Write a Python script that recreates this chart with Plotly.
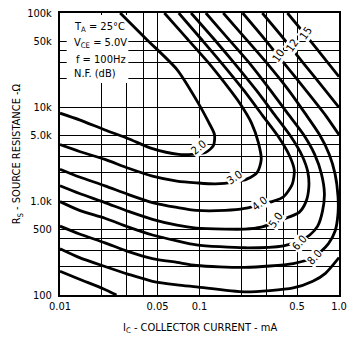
import math
import plotly.graph_objects as go

# Collector current (mA) / source resistance (ohm) pairs along each noise-figure contour
nf2_ic = [0.027, 0.042, 0.069, 0.098, 0.115, 0.128, 0.126, 0.111, 0.089, 0.071, 0.046, 0.031, 0.021, 0.0138, 0.010]
nf2_rs = [100000, 52000, 25000, 11000, 7100, 5100, 3900, 3300, 3130, 3130, 3600, 4600, 5700, 7300, 8600]

nf3_ic = [0.056, 0.080, 0.115, 0.153, 0.195, 0.236, 0.264, 0.277, 0.260, 0.218, 0.180, 0.130, 0.095, 0.069, 0.046, 0.031, 0.021, 0.0138, 0.010]
nf3_rs = [100000, 55000, 30000, 17700, 10900, 6750, 4200, 2770, 2030, 1710, 1600, 1520, 1560, 1630, 1840, 2230, 2770, 3360, 3980]

nf4_ic = [0.071, 0.102, 0.146, 0.208, 0.282, 0.364, 0.441, 0.478, 0.463, 0.401, 0.331, 0.273, 0.211, 0.153, 0.095, 0.069, 0.046, 0.031, 0.021, 0.0138, 0.010]
nf4_rs = [100000, 53500, 28600, 15000, 8200, 4940, 3050, 2130, 1520, 1110, 985, 917, 833, 794, 794, 853, 962, 1170, 1450, 1800, 2180]

nf5_ic = [0.087, 0.126, 0.180, 0.256, 0.347, 0.448, 0.543, 0.598, 0.608, 0.580, 0.518, 0.434, 0.352, 0.277, 0.211, 0.153, 0.095, 0.069, 0.046, 0.031, 0.021, 0.0138, 0.010]
nf5_rs = [100000, 53500, 28600, 15000, 8200, 4940, 3050, 2030, 1410, 985, 757, 671, 595, 527, 502, 502, 515, 553, 639, 775, 962, 1200, 1450]

nf6_ic = [0.111, 0.158, 0.225, 0.320, 0.427, 0.552, 0.669, 0.749, 0.786, 0.761, 0.703, 0.618, 0.526, 0.401, 0.211, 0.095, 0.069, 0.046, 0.031, 0.021, 0.0138, 0.010]
nf6_rs = [100000, 54800, 30000, 15300, 8600, 5180, 3130, 1930, 1200, 775, 540, 435, 377, 334, 318, 342, 377, 435, 527, 655, 794, 985]

nf8_ic = [0.148, 0.211, 0.300, 0.427, 0.570, 0.726, 0.852, 0.938, 0.984, 0.984, 0.938, 0.838, 0.669, 0.470, 0.211, 0.095, 0.069, 0.046, 0.031, 0.021, 0.0138, 0.010]
nf8_rs = [100000, 54800, 30000, 15700, 8600, 5060, 3130, 1930, 1110, 738, 479, 350, 256, 216, 197, 206, 222, 244, 289, 359, 446, 540]

# 10, 12 and 15 dB leave the chart; None splits the visible branches
nf10_ic = [0.204, 0.291, 0.414, 0.589, 0.799, 1.0, None, 1.0, 0.799, 0.649, 0.470, 0.211, 0.095, 0.069, 0.046, 0.031, 0.021, 0.0138, 0.010]
nf10_rs = [100000, 53500, 27900, 14600, 8200, 5060, None, 250, 170, 140, 119, 108, 122, 128, 140, 166, 201, 250, 311]

nf12_ic = [0.282, 0.401, 0.570, 0.812, 1.0, None, 0.010, 0.0138, 0.0206, 0.0254]
nf12_rs = [100000, 53500, 27900, 14600, 9900, None, 179, 147, 116, 100]

nf15_ic = [0.427, 0.589, 0.812, 1.0]
nf15_rs = [100000, 56000, 31000, 21000]

nf_levels = ["2.0", "3.0", "4.0", "5.0", "6.0", "8.0", "10", "12", "15"]

# Where each level's number sits on its curve (mA, ohm)
label_ic = [0.0992, 0.180, 0.2725, 0.352, 0.526, 0.670, 0.370, 0.463, 0.580]
label_rs = [3700, 1757, 939, 624, 359, 250, 35500, 45200, 60300]

# Grid / tick positions
x_ticks = [0.01, 0.02, 0.03, 0.04, 0.05, 0.1, 0.2, 0.3, 0.4, 0.5, 1.0]
x_ticktext = ["0.01", "", "", "", "0.05", "0.1", "", "", "", "0.5", "1.0"]
y_ticks = [100, 200, 300, 400, 500, 1000, 2000, 3000, 4000, 5000, 10000, 20000, 30000, 40000, 50000, 100000]
y_ticktext = ["100", "", "", "", "500", "1.0k", "", "", "", "5.0k", "10k", "", "", "", "50k", "100k"]

conditions = ["T<sub>A</sub> = 25°C", "V<sub>CE</sub> = 5.0V", "f = 100Hz", "N.F. (dB)"]

FONT = "Liberation Sans Narrow, Arial Narrow, DejaVu Sans Condensed, Liberation Sans, sans-serif"

X_RANGE = (-2, 0)
Y_RANGE = (2, 5)


def frac_to_x(f):
    """Fraction of the x axis span -> current value on the log axis."""
    return 10 ** (X_RANGE[0] + (X_RANGE[1] - X_RANGE[0]) * f)


def frac_to_y(f):
    """Fraction of the y axis span -> resistance value on the log axis."""
    return 10 ** (Y_RANGE[0] + (Y_RANGE[1] - Y_RANGE[0]) * f)


fig = go.Figure()

# White patch behind the condition block (sits above the grid, under the curves)
bx0, bx1, by0, by1 = 0.024, 0.245, 0.752, 0.993
fig.add_trace(go.Scatter(
    x=[frac_to_x(bx0), frac_to_x(bx1), frac_to_x(bx1), frac_to_x(bx0), frac_to_x(bx0)],
    y=[frac_to_y(by0), frac_to_y(by0), frac_to_y(by1), frac_to_y(by1), frac_to_y(by0)],
    mode="lines", fill="toself", fillcolor="white",
    line=dict(width=0, color="white"), hoverinfo="skip", showlegend=False,
))

curves = [
    (nf2_ic, nf2_rs), (nf3_ic, nf3_rs), (nf4_ic, nf4_rs), (nf5_ic, nf5_rs),
    (nf6_ic, nf6_rs), (nf8_ic, nf8_rs), (nf10_ic, nf10_rs), (nf12_ic, nf12_rs),
    (nf15_ic, nf15_rs),
]
for ic, rs in curves:
    fig.add_trace(go.Scatter(
        x=ic, y=rs, mode="lines",
        line=dict(color="black", width=2.8, shape="spline", smoothing=0.7),
        connectgaps=False, hoverinfo="skip", showlegend=False,
    ))

label_angles = [-40, -35, -38, -55, -48, -48, -55, -55, -55]
annotations = []
for lvl, ic, rs, ang in zip(nf_levels, label_ic, label_rs, label_angles):
    annotations.append(dict(
        x=math.log10(ic), y=math.log10(rs), xref="x", yref="y",
        text=lvl, showarrow=False, textangle=ang,
        bgcolor="white", borderpad=0,
        font=dict(family=FONT, size=11, color="black"),
    ))

# Test-condition block in the upper left
cond_y = [0.951, 0.895, 0.836, 0.784]
cond_x = [0.042, 0.042, 0.050, 0.042]
for txt, cx, cy in zip(conditions, cond_x, cond_y):
    annotations.append(dict(
        x=cx, y=cy, xref="paper", yref="paper", xanchor="left", yanchor="middle",
        text=txt, showarrow=False,
        font=dict(family=FONT, size=11, color="black"),
    ))

# Axis titles
annotations.append(dict(
    x=0.5, y=-0.118, xref="paper", yref="paper", xanchor="center", yanchor="middle",
    text="I<sub>C</sub> - COLLECTOR CURRENT - mA", showarrow=False,
    font=dict(family=FONT, size=11, color="black"),
))
annotations.append(dict(
    x=-0.153, y=0.5, xref="paper", yref="paper", xanchor="center", yanchor="middle",
    text="R<sub>S</sub> - SOURCE RESISTANCE -Ω", showarrow=False, textangle=-90,
    font=dict(family=FONT, size=11, color="black"),
))

axis_common = dict(
    type="log", showgrid=True, gridcolor="black", gridwidth=1,
    showline=True, linecolor="black", linewidth=2, mirror=True,
    ticks="", zeroline=False,
    tickfont=dict(family=FONT, size=11, color="black"),
)

fig.update_layout(
    width=354, height=345, autosize=False,
    margin=dict(l=60, r=7, t=8, b=50),
    paper_bgcolor="white", plot_bgcolor="white",
    xaxis=dict(range=list(X_RANGE), tickvals=x_ticks, ticktext=x_ticktext, **axis_common),
    yaxis=dict(range=list(Y_RANGE), tickvals=y_ticks, ticktext=y_ticktext,
               ticklabelstandoff=4, **axis_common),
    annotations=annotations,
)

fig.write_html("out.html")
